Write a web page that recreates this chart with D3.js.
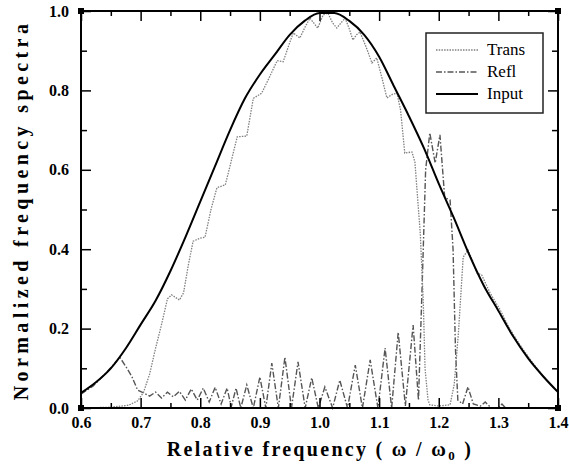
<!DOCTYPE html>
<html>
<head>
<meta charset="utf-8">
<script src="https://cdn.jsdelivr.net/npm/d3@7"></script>
<style>
  body { margin: 0; background: #fff; }
  svg { display: block; }
</style>
</head>
<body>
<div id="chart"></div>
<script>
// relative frequency (w / w0) and normalized spectra
var inputW = [0.600,0.625,0.650,0.675,0.700,0.725,0.750,0.775,0.800,0.825,0.850,0.875,0.900,0.925,0.950,0.975,1.000,1.025,1.050,1.075,1.100,1.125,1.150,1.175,1.200,1.225,1.250,1.275,1.300,1.325,1.350,1.375,1.400];
var inputV = [0.038,0.065,0.100,0.150,0.210,0.270,0.345,0.430,0.520,0.610,0.700,0.780,0.840,0.890,0.940,0.975,0.995,0.995,0.975,0.940,0.885,0.810,0.735,0.655,0.565,0.480,0.390,0.310,0.245,0.180,0.125,0.080,0.040];

var transW = [0.600,0.650,0.680,0.695,0.705,0.715,0.725,0.735,0.745,0.752,0.765,0.772,0.780,0.788,0.800,0.808,0.818,0.828,0.842,0.850,0.862,0.878,0.889,0.903,0.915,0.929,0.939,0.950,0.956,0.967,0.976,0.984,0.997,1.006,1.014,1.022,1.029,1.036,1.043,1.050,1.056,1.062,1.068,1.078,1.088,1.096,1.105,1.113,1.122,1.130,1.136,1.143,1.155,1.160,1.165,1.169,1.174,1.177,1.182,1.185,1.200,1.219,1.226,1.233,1.241,1.249,1.257,1.264,1.272,1.286,1.303,1.317,1.331,1.345,1.358,1.375,1.400];
var transV = [0.000,0.002,0.007,0.018,0.040,0.085,0.150,0.210,0.275,0.285,0.272,0.290,0.360,0.420,0.428,0.430,0.500,0.555,0.562,0.610,0.683,0.685,0.780,0.793,0.830,0.875,0.872,0.920,0.945,0.932,0.960,0.982,0.957,0.990,0.995,0.970,0.957,0.970,0.982,0.955,0.927,0.940,0.947,0.910,0.869,0.882,0.830,0.781,0.790,0.793,0.750,0.642,0.645,0.620,0.520,0.440,0.270,0.100,0.020,0.008,0.005,0.008,0.060,0.189,0.380,0.398,0.370,0.340,0.335,0.290,0.247,0.205,0.171,0.140,0.113,0.080,0.040];

var reflW = [0.600,0.620,0.640,0.655,0.665,0.675,0.685,0.695,0.705,0.715,0.725,0.735,0.745,0.755,0.765,0.775,0.785,0.795,0.805,0.815,0.825,0.835,0.845,0.852,0.860,0.868,0.878,0.889,0.900,0.910,0.920,0.931,0.942,0.953,0.964,0.976,0.987,0.998,1.009,1.022,1.034,1.047,1.060,1.072,1.085,1.098,1.110,1.121,1.132,1.144,1.157,1.166,1.172,1.178,1.185,1.194,1.202,1.210,1.219,1.224,1.228,1.232,1.240,1.249,1.258,1.270,1.278,1.288,1.300,1.306,1.312,1.400];
var reflV = [0.035,0.055,0.085,0.110,0.128,0.105,0.080,0.045,0.038,0.030,0.040,0.025,0.040,0.028,0.042,0.020,0.048,0.020,0.050,0.015,0.052,0.010,0.050,0.003,0.050,0.000,0.058,0.000,0.078,0.000,0.113,0.000,0.128,0.000,0.116,0.000,0.076,0.000,0.053,0.000,0.070,0.000,0.108,0.000,0.121,0.000,0.151,0.000,0.191,0.005,0.209,0.020,0.300,0.600,0.693,0.617,0.688,0.530,0.524,0.400,0.150,0.020,0.010,0.053,0.010,0.005,0.015,0.000,0.000,0.010,0.000,0.000];

var xMajor = [0.6,0.7,0.8,0.9,1.0,1.1,1.2,1.3,1.4];
var yMajor = [0.0,0.2,0.4,0.6,0.8,1.0];
var legendNames = ['Trans','Refl','Input'];

var W = 569, H = 473;
var svg = d3.select('#chart').append('svg')
    .attr('width', W)
    .attr('height', H);

var x = d3.scaleLinear().domain([0.6, 1.4]).range([81, 558]);
var y = d3.scaleLinear().domain([0, 1]).range([408, 11]);

var xMinor = d3.range(0.65, 1.4, 0.1);
var yMinor = d3.range(0.1, 1.0, 0.2);

function zip(ws, vs) { return ws.map(function(w, i){ return [w, vs[i]]; }); }

var line = d3.line()
    .x(function(d){ return x(d[0]); })
    .y(function(d){ return y(d[1]); });

var plot = svg.append('g');

plot.append('path')
    .datum(zip(reflW, reflV))
    .attr('d', line)
    .attr('fill', 'none')
    .attr('stroke', '#555')
    .attr('stroke-width', 1.4)
    .attr('stroke-dasharray', '6,2,1.5,2');

plot.append('path')
    .datum(zip(transW, transV))
    .attr('d', line)
    .attr('fill', 'none')
    .attr('stroke', '#808080')
    .attr('stroke-width', 1.3)
    .attr('stroke-dasharray', '1.5,1.2');

plot.append('path')
    .datum(zip(inputW, inputV))
    .attr('d', line.curve(d3.curveMonotoneX))
    .attr('fill', 'none')
    .attr('stroke', '#000')
    .attr('stroke-width', 2);

// axes, ticks pointing in
function styleAxis(g) {
  g.select('.domain').remove();
  g.selectAll('line').attr('stroke', '#000').attr('stroke-width', 1.5);
  g.selectAll('text')
    .attr('fill', '#000')
    .style('font-family', '"Liberation Serif", serif')
    .style('font-weight', 'bold')
    .style('font-size', '16px');
}

svg.append('g').attr('transform', 'translate(0,408)')
    .call(d3.axisBottom(x).tickValues(xMajor).tickSize(-10).tickPadding(9).tickFormat(d3.format('.1f')))
    .call(styleAxis);
svg.append('g').attr('transform', 'translate(0,408)')
    .call(d3.axisBottom(x).tickValues(xMinor).tickSize(-5).tickFormat(''))
    .call(styleAxis);
svg.append('g').attr('transform', 'translate(0,11)')
    .call(d3.axisTop(x).tickValues(xMajor).tickSize(-10).tickFormat(''))
    .call(styleAxis);
svg.append('g').attr('transform', 'translate(0,11)')
    .call(d3.axisTop(x).tickValues(xMinor).tickSize(-5).tickFormat(''))
    .call(styleAxis);

svg.append('g').attr('transform', 'translate(81,0)')
    .call(d3.axisLeft(y).tickValues(yMajor).tickSize(-10).tickPadding(12).tickFormat(d3.format('.1f')))
    .call(styleAxis);
svg.append('g').attr('transform', 'translate(81,0)')
    .call(d3.axisLeft(y).tickValues(yMinor).tickSize(-6).tickFormat(''))
    .call(styleAxis);
svg.append('g').attr('transform', 'translate(558,0)')
    .call(d3.axisRight(y).tickValues(yMajor).tickSize(-10).tickFormat(''))
    .call(styleAxis);
svg.append('g').attr('transform', 'translate(558,0)')
    .call(d3.axisRight(y).tickValues(yMinor).tickSize(-6).tickFormat(''))
    .call(styleAxis);

// frame
svg.append('rect')
    .attr('x', x(0.6)).attr('y', y(1))
    .attr('width', x(1.4) - x(0.6)).attr('height', y(0) - y(1))
    .attr('fill', 'none').attr('stroke', '#000').attr('stroke-width', 2);

svg.selectAll('.corner')
    .data([[0.6,0],[0.6,1],[1.4,1],[1.4,0]])
    .enter().append('rect')
      .attr('class', 'corner')
      .attr('x', function(d){ return x(d[0]) - 3; })
      .attr('y', function(d){ return y(d[1]) - 3; })
      .attr('width', 6).attr('height', 6)
      .attr('fill', '#000');

// legend
var lg = svg.append('g');
lg.append('rect')
    .attr('x', 426).attr('y', 33).attr('width', 117).attr('height', 80)
    .attr('fill', '#fff').attr('stroke', '#222').attr('stroke-width', 1.5);

var legendStyles = [
  {stroke: '#808080', width: 1.3, dash: '1.5,1.2'},
  {stroke: '#555', width: 1.4, dash: '6,2,1.5,2'},
  {stroke: '#000', width: 2, dash: null}
];
legendNames.forEach(function(name, i){
  var yy = 50 + i * 22;
  lg.append('line')
    .attr('x1', 436).attr('x2', 478).attr('y1', yy).attr('y2', yy)
    .attr('stroke', legendStyles[i].stroke)
    .attr('stroke-width', legendStyles[i].width)
    .attr('stroke-dasharray', legendStyles[i].dash);
  lg.append('text')
    .attr('x', 487).attr('y', yy + 5)
    .style('font-family', '"Liberation Serif", serif')
    .style('font-size', '17px')
    .text(name);
});

// axis titles
var xt = svg.append('text')
    .attr('x', 320).attr('y', 456)
    .attr('text-anchor', 'middle')
    .style('font-family', '"Liberation Serif", serif')
    .style('font-weight', 'bold')
    .style('font-size', '20px')
    .style('letter-spacing', '2.3px');
xt.append('tspan').text('Relative frequency  ( \u03c9 / \u03c9');
xt.append('tspan').attr('dy', 4).style('font-size', '13px').text('0');
xt.append('tspan').attr('dy', -4).text(' )');

svg.append('text')
    .attr('transform', 'translate(28,210) rotate(-90)')
    .attr('text-anchor', 'middle')
    .style('font-family', '"Liberation Serif", serif')
    .style('font-weight', 'bold')
    .style('font-size', '20px')
    .style('letter-spacing', '4.4px')
    .text('Normalized frequency spectra');
</script>
</body>
</html>
